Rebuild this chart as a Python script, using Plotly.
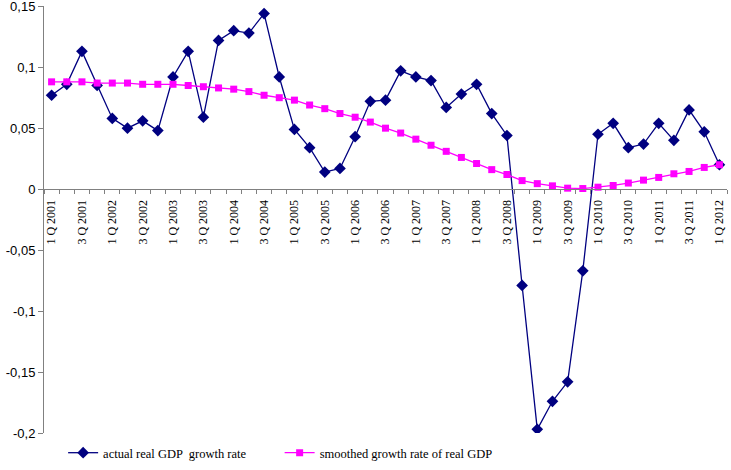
import plotly.graph_objects as go

categories = []
for yr in range(2001, 2013):
    for q in range(1, 5):
        categories.append(f"{q} Q {yr}")
categories = categories[:45]

actual = [0.077, 0.086, 0.113, 0.085, 0.058, 0.050, 0.056, 0.048, 0.092, 0.113,
          0.059, 0.122, 0.130, 0.128, 0.144, 0.092, 0.049, 0.034, 0.014, 0.017,
          0.043, 0.072, 0.073, 0.097, 0.092, 0.089, 0.067, 0.078, 0.086, 0.062,
          0.044, -0.079, -0.197, -0.174, -0.158, -0.067, 0.045, 0.054, 0.034, 0.037,
          0.054, 0.040, 0.065, 0.047, 0.020]

smoothed = [0.088, 0.088, 0.088, 0.087, 0.087, 0.087, 0.086, 0.086, 0.086, 0.085,
            0.084, 0.083, 0.082, 0.080, 0.077, 0.075, 0.073, 0.069, 0.066, 0.062,
            0.059, 0.055, 0.050, 0.046, 0.041, 0.036, 0.031, 0.026, 0.021, 0.016,
            0.012, 0.007, 0.0045, 0.0027, 0.0008, 0.0005, 0.0016, 0.003, 0.005, 0.0074,
            0.0096, 0.0126, 0.0145, 0.0178, 0.020]

y_ticks = [0.15, 0.1, 0.05, 0, -0.05, -0.1, -0.15, -0.2]
y_ticktext = ["0,15", "0,1", "0,05", "0", "-0,05", "-0,1", "-0,15", "-0,2"]

x_ticktext = [c if i % 2 == 0 else "" for i, c in enumerate(categories)]

fig = go.Figure()
fig.add_trace(go.Scatter(
    x=categories, y=actual, mode="lines+markers",
    name="actual real GDP  growth rate",
    line=dict(color="#000080", width=1.3),
    marker=dict(symbol="diamond", size=9, color="#000080"),
    legend="legend",
))
fig.add_trace(go.Scatter(
    x=categories, y=smoothed, mode="lines+markers",
    name="smoothed growth rate of real GDP",
    line=dict(color="#FF00FF", width=1.3),
    marker=dict(symbol="square", size=7, color="#FF00FF"),
    legend="legend2",
))

ymin, ymax = -0.2, 0.1502
zero_pos = (0 - ymin) / (ymax - ymin)

fig.update_layout(
    width=731, height=470,
    margin=dict(l=44, r=4, t=6, b=37, autoexpand=False),
    plot_bgcolor="white", paper_bgcolor="white",
    showlegend=True,
    legend=dict(x=0.028, y=-0.047, xanchor="left", yanchor="middle",
                font=dict(family="Liberation Serif", size=12.5, color="black"),
                bgcolor="rgba(0,0,0,0)", itemwidth=30),
    legend2=dict(x=0.345, y=-0.047, xanchor="left", yanchor="middle",
                 font=dict(family="Liberation Serif", size=12.5, color="black"),
                 bgcolor="rgba(0,0,0,0)", itemwidth=30),
    xaxis=dict(
        type="category", categoryorder="array", categoryarray=categories,
        tickmode="array", tickvals=categories, ticktext=x_ticktext,
        tickson="boundaries", ticks="outside", ticklen=4, tickcolor="#808080",
        tickangle=-90, tickfont=dict(family="Liberation Serif", size=12, color="black"),
        ticklabelstandoff=5, automargin=False,
        showline=True, linecolor="#808080", linewidth=1,
        showgrid=False, zeroline=False,
        anchor="free", position=zero_pos,
        range=[-0.5, len(categories) - 0.5],
    ),
    yaxis=dict(
        range=[ymin, ymax], tickmode="array", tickvals=y_ticks, ticktext=y_ticktext,
        ticks="outside", ticklen=5, tickcolor="#808080",
        tickfont=dict(family="Liberation Sans", size=13, color="black"),
        ticklabeloverflow="allow", automargin=False,
        showline=True, linecolor="#808080", linewidth=1,
        showgrid=False, zeroline=False,
    ),
)

fig.write_html("out.html")
